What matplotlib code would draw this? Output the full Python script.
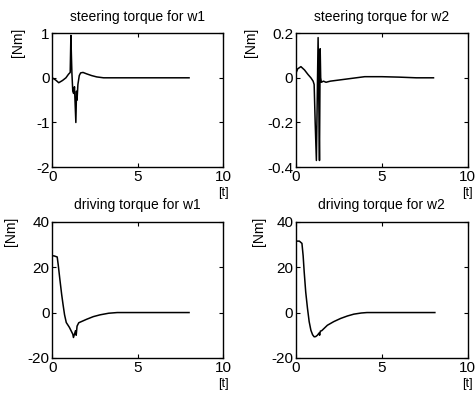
import matplotlib
matplotlib.use("Agg")
import matplotlib.pyplot as plt

plt.rcParams['font.family'] = ['Liberation Sans Narrow', 'Liberation Sans', 'DejaVu Sans']

# steering torque, wheel 1
steer1_t = [0, 0.2, 0.38, 0.6, 0.8, 0.95, 1.05, 1.09, 1.12, 1.15, 1.2, 1.25, 1.3,
            1.38, 1.42, 1.45, 1.5, 1.58, 1.66, 1.8, 2.0, 2.3, 2.6, 3.0, 3.5, 8.0]
steer1 = [0, -0.05, -0.11, -0.06, 0.0, 0.08, 0.12, 0.95, 0.5, 0.1, -0.3, -0.35, -0.2,
          -1.0, -0.3, -0.5, -0.15, 0.05, 0.11, 0.12, 0.09, 0.05, 0.02, 0.0, 0.0, 0.0]

# steering torque, wheel 2
steer2_t = [0, 0.1, 0.29, 0.5, 0.7, 0.87, 1.0, 1.06, 1.12, 1.19, 1.22, 1.29, 1.33,
            1.37, 1.41, 1.44, 1.48, 1.6, 1.75, 2.0, 2.5, 3.0, 3.5, 4.0, 5.0, 6.0, 7.0, 8.0]
steer2 = [0.02, 0.04, 0.05, 0.035, 0.015, 0.0, -0.015, -0.03, -0.2, -0.37, -0.2, 0.18, -0.1,
          -0.37, 0.13, 0.0, -0.02, -0.015, -0.02, -0.015, -0.01, -0.005, 0.0, 0.005, 0.005,
          0.003, 0.0, 0.0]

# driving torque, wheel 1
drive1_t = [0, 0.1, 0.29, 0.35, 0.44, 0.55, 0.63, 0.72, 0.82, 1.0, 1.1, 1.2, 1.24, 1.3,
            1.36, 1.4, 1.45, 1.55, 1.7, 2.0, 2.4, 2.8, 3.3, 3.8, 5.0, 8.0]
drive1 = [25, 25, 24.5, 21, 15, 8, 3.6, -1, -4.4, -6.5, -8, -9.5, -11, -9.5,
          -8, -10, -6, -4.5, -4, -3, -1.8, -1, -0.3, 0, 0, 0]

# driving torque, wheel 2
drive2_t = [0, 0.2, 0.35, 0.42, 0.48, 0.57, 0.67, 0.77, 0.87, 0.97, 1.06, 1.15, 1.25,
            1.35, 1.38, 1.42, 1.5, 1.83, 2.2, 2.6, 3.0, 3.37, 3.8, 4.13, 5.0, 8.08]
drive2 = [31.5, 31.5, 30.5, 25, 18, 9, 2, -4, -7.8, -9.8, -10.7, -10.6, -10,
          -9, -10, -8.2, -8, -5.6, -4, -2.6, -1.5, -0.7, -0.2, 0, 0, 0]

panels = [
    ("steering torque for w1", steer1_t, steer1, (-2, 1), [-2, -1, 0, 1], ['-2', '-1', '0', '1']),
    ("steering torque for w2", steer2_t, steer2, (-0.4, 0.2), [-0.4, -0.2, 0, 0.2], ['-0.4', '-0.2', '0', '0.2']),
    ("driving torque for w1", drive1_t, drive1, (-20, 40), [-20, 0, 20, 40], ['-20', '0', '20', '40']),
    ("driving torque for w2", drive2_t, drive2, (-20, 40), [-20, 0, 20, 40], ['-20', '0', '20', '40']),
]

positions = [
    [0.110, 0.581, 0.360, 0.336],
    [0.623, 0.581, 0.362, 0.336],
    [0.110, 0.103, 0.360, 0.341],
    [0.623, 0.103, 0.362, 0.341],
]
ylabel_x = [-0.16, -0.22, -0.20, -0.175]

fig = plt.figure(figsize=(4.75, 3.99), dpi=100)

for (title, t, v, ylim, yt, ytl), pos, lx in zip(panels, positions, ylabel_x):
    ax = fig.add_axes(pos)
    ax.plot(t, v, color='black', linewidth=1.1)
    ax.set_xlim(0, 10)
    ax.set_ylim(*ylim)
    ax.set_xticks([0, 5, 10])
    ax.set_xticklabels(['0', '5', '10'])
    ax.set_yticks(yt)
    ax.set_yticklabels(ytl)
    ax.tick_params(direction='in', length=3, width=0.8, top=True, right=True,
                   labelsize=11, pad=2, colors='black')
    for s in ax.spines.values():
        s.set_linewidth(1.0)
    ax.set_title(title, fontsize=10, pad=9)
    ax.set_ylabel('[Nm]', fontsize=10, rotation=90)
    ax.yaxis.set_label_coords(lx, 0.93)
    ax.set_xlabel('[t]', fontsize=9)
    ax.xaxis.set_label_coords(1.0, -0.15)

fig.savefig('out.png', dpi=100, facecolor='white')
